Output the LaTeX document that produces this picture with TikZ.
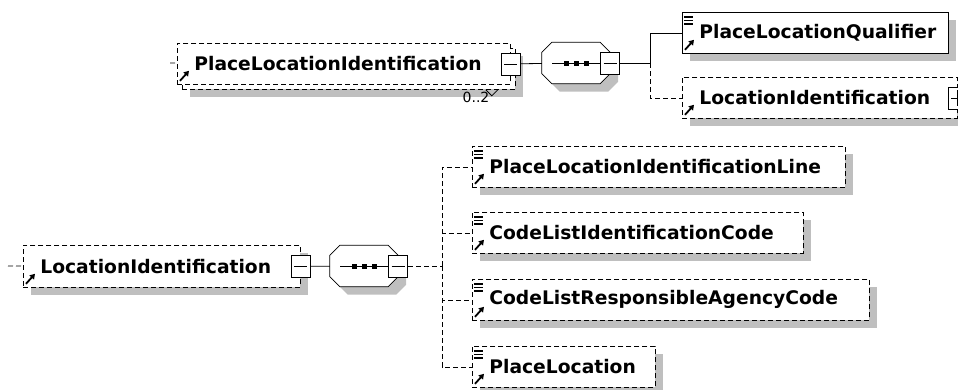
\documentclass[tikz,border=0pt]{standalone}
\usepackage{fontspec}
\setmainfont{DejaVu Sans}
\usetikzlibrary{shadows,arrows.meta}

\tikzset{
  gshadow/.style={drop shadow={shadow xshift=8pt, shadow yshift=-8pt, fill=black!25, opacity=1}},
  elem/.style={draw, line width=0.8pt, fill=white, anchor=north west, minimum height=41pt,
    inner xsep=17pt, align=left, font=\bfseries\fontsize{18.7}{22}\selectfont},
  opt/.style={dash pattern=on 5pt off 3pt},
  conn/.style={line width=0.8pt},
  seqbox/.style={minimum width=68pt, minimum height=41pt, inner sep=0pt},
  pmbox/.style={draw, line width=0.8pt, fill=white, minimum width=19pt, minimum height=22pt, inner sep=0pt},
  minus/.style={pmbox, path picture={
      \draw[line width=0.8pt] ([xshift=3pt]path picture bounding box.west) -- ([xshift=-3pt]path picture bounding box.east);}},
  plus/.style={pmbox, path picture={
      \draw[line width=0.8pt] ([xshift=3pt]path picture bounding box.west) -- ([xshift=-3pt]path picture bounding box.east);
      \draw[line width=0.8pt] ([yshift=-3pt]path picture bounding box.north) -- ([yshift=3pt]path picture bounding box.south);}},
}

% icon for a referenced element
\newcommand{\refarrow}[1]{\draw[line width=1.8pt, -{Triangle[length=5pt,width=6pt]}] ([shift={(3pt,4pt)}]#1.south west) -- ([shift={(12pt,14pt)}]#1.south west);}
% icon for a simple content element
\newcommand{\simplemark}[1]{\foreach \k in {5pt,8.5pt,12pt} \draw[line width=1.1pt] ([shift={(2pt,-\k)}]#1.north west) -- ++(9pt,0);}
% sequence compositor: octagon round a node, with its shadow
\newcommand{\octagon}[3]{\path[#1] ([shift={(#3)},xshift=10pt]#2.north west) -- ([shift={(#3)},xshift=-10pt]#2.north east)
  -- ([shift={(#3)},yshift=-10pt]#2.north east) -- ([shift={(#3)},yshift=10pt]#2.south east)
  -- ([shift={(#3)},xshift=-10pt]#2.south east) -- ([shift={(#3)},xshift=10pt]#2.south west)
  -- ([shift={(#3)},yshift=10pt]#2.south west) -- ([shift={(#3)},yshift=-10pt]#2.north west) -- cycle;}
\newcommand{\sequence}[1]{%
  \octagon{fill=black!25}{#1}{8pt,-8pt}
  \octagon{fill=white, draw, line width=0.8pt}{#1}{0pt,0pt}
  \draw[conn] ([xshift=-24pt]#1.center) -- ([xshift=24pt]#1.center);
  \foreach \d in {-10pt,0pt,10pt} \fill ([xshift=\d]#1.center) +(-2.5pt,-2.5pt) rectangle +(2.5pt,2.5pt);}

\begin{document}
\begin{tikzpicture}[x=1pt,y=1pt]
    \useasboundingbox (0,0) rectangle (958,-389);
    \clip (0,0) rectangle (958,-389);

    % Top group: PlaceLocationIdentification (0..2)
    \node[elem, opt, gshadow, minimum width=333pt] (plidback) at (182,-48) {};
    \node[elem, opt, text width=299pt] (plid) at (177,-43) {PlaceLocationIdentification};
    \draw[conn] ([xshift=-30pt]plidback.south east) -- ++(6pt,-6pt) -- ++(6pt,6pt);
    \node[font=\fontsize{14}{16}\selectfont] (occ) at (476,-97) {0..2};
    \refarrow{plid}
    \node[minus] (plidm) at (plid.east) {};
    \node[seqbox] (seq1) at (576,-63) {};
    \sequence{seq1}
    \node[minus] (seq1m) at (seq1.east) {};

    % Children of the top sequence
    \node[elem, gshadow, text width=232pt] (plq) at (682,-12) {PlaceLocationQualifier};
    \simplemark{plq}
    \refarrow{plq}
    \node[elem, opt, gshadow, text width=241pt] (locida) at (682,-77) {LocationIdentification};
    \refarrow{locida}
    \node[plus] (locidap) at (locida.east) {};

    % Bottom group: LocationIdentification
    \node[elem, opt, gshadow, text width=243pt, minimum height=42pt] (locidb) at (23,-245) {LocationIdentification};
    \refarrow{locidb}
    \node[minus] (locidbm) at (locidb.east) {};
    \node[seqbox] (seq2) at (364,-266) {};
    \sequence{seq2}
    \node[minus] (seq2m) at (seq2.east) {};

    % Children of the bottom sequence
    \node[elem, opt, gshadow, text width=339pt] (plil) at (472,-146) {PlaceLocationIdentificationLine};
    \node[elem, opt, gshadow, text width=297pt] (clic) at (472,-212) {CodeListIdentificationCode};
    \node[elem, opt, gshadow, text width=363pt] (clrac) at (472,-279) {CodeListResponsibleAgencyCode};
    \node[elem, opt, gshadow, text width=149pt] (pl) at (472,-346) {PlaceLocation};
    \foreach \n in {plil,clic,clrac,pl} {\simplemark{\n} \refarrow{\n}}

    % Connectors
    \coordinate (in1) at (170,-63);
    \coordinate (in2) at (8,-266);
    \coordinate (j1) at (650,-63);
    \coordinate (j2) at (442,-266);
    \draw[conn, opt] (in1) -- (plid);
    \draw[conn] (plidm) -- (seq1);
    \draw[conn] (seq1m) -- (j1) |- (plq);
    \draw[conn, opt] (j1) |- (locida);
    \draw[conn, opt] (in2) -- (locidb);
    \draw[conn] (locidbm) -- (seq2);
    \draw[conn, opt] (seq2m) -- (j2);
    \draw[conn, opt] (j2) |- (plil);
    \draw[conn, opt] (j2) |- (clic);
    \draw[conn, opt] (j2) |- (clrac);
    \draw[conn, opt] (j2) |- (pl);
\end{tikzpicture}
\end{document}
